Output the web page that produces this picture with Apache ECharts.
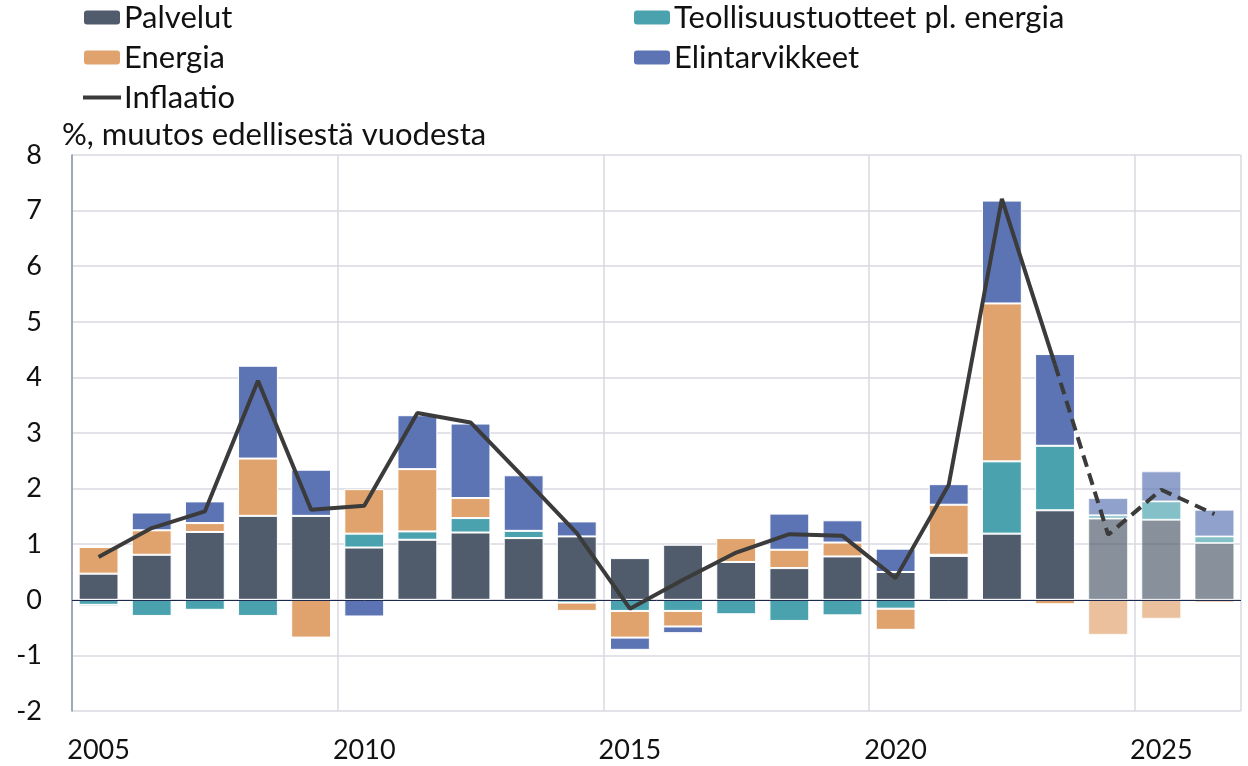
<!DOCTYPE html>
<html lang="fi">
<head>
    <meta charset="UTF-8">
    <title>Inflaatio</title>
    <script src="https://cdn.jsdelivr.net/npm/echarts@6/dist/echarts.min.js"></script>
    <style>
        html, body {margin:0; padding:0; background:#fff}
    </style>
</head>
<body>
<div id="main" style="width: 1248px; height:766px;"></div>
<script>
    var years = ['2005','2006','2007','2008','2009','2010','2011','2012','2013','2014','2015',
        '2016','2017','2018','2019','2020','2021','2022','2023','2024','2025','2026'];
    var palvelut = [0.47, 0.81, 1.22, 1.51, 1.51, 0.94, 1.08, 1.21, 1.11, 1.14, 0.75,
        0.99, 0.68, 0.57, 0.78, 0.50, 0.79, 1.19, 1.61, 1.46, 1.44, 1.02];
    var teollisuus = [-0.09, -0.29, -0.18, -0.29, 0, 0.25, 0.15, 0.26, 0.13, -0.05, -0.20,
        -0.20, -0.26, -0.38, -0.28, -0.16, 0.02, 1.30, 1.16, 0.06, 0.33, 0.12];
    var energia = [0.48, 0.44, 0.16, 1.03, -0.68, 0.80, 1.12, 0.36, -0.03, -0.15, -0.48,
        -0.28, 0.43, 0.33, 0.25, -0.38, 0.90, 2.84, -0.08, -0.63, -0.34, -0.05];
    var elintarvikkeet = [-0.04, 0.32, 0.39, 1.67, 0.83, -0.30, 0.97, 1.34, 1.00, 0.27, -0.22,
        -0.12, 0, 0.65, 0.40, 0.42, 0.37, 1.85, 1.65, 0.31, 0.54, 0.48];
    var inflaatio = [0.77, 1.29, 1.59, 3.94, 1.62, 1.69, 3.36, 3.19, 2.20, 1.20, -0.16,
        0.36, 0.85, 1.18, 1.15, 0.39, 2.07, 7.21, 4.23, 1.17, 1.98, 1.54];
    var yTicks = [-2, 8, 1]; // min, max, step
    var ennusteAlku = 19; // 2024 -> ennuste

    var fontName = 'Lato';
    var textSize = 31;   // selitteet ja otsikko
    var numSize = 27;    // akselien numerot

    // ennustevuodet vaaleammalla
    function bars(arr) {
        return arr.map(function (v, i) {
            if (i >= ennusteAlku) return {value: v, itemStyle: {opacity: 0.68}};
            return v;
        });
    }
    var toteutunut = inflaatio.map(function (v, i) { return i <= ennusteAlku - 1 ? v : null; });
    var ennuste = inflaatio.map(function (v, i) { return i >= ennusteAlku - 1 ? v : null; });

    function five(i) { return i % 5 === 0; }

    function barSerie(name, data, color) {
        return {
            name: name,
            type: 'bar',
            stack: 'a',
            barCategoryGap: '25%',
            itemStyle: {color: color, borderColor: '#ffffff', borderWidth: 1},
            emphasis: {disabled: true},
            data: bars(data)
        };
    }

    var chart = echarts.init(document.getElementById('main'));
    var sPalv = barSerie('Palvelut', palvelut, '#505b6b');
    sPalv.markLine = {
        silent: true,
        symbol: 'none',
        label: {show: false},
        lineStyle: {color: '#1f2a4f', width: 1, type: 'solid'},
        data: [{yAxis: 0}]
    };

    var legendBase = {
        top: 0,
        padding: [2, 5, 5, 5],
        orient: 'vertical',
        itemWidth: 38, itemHeight: 16, itemGap: 9,
        textStyle: {fontSize: textSize, color: '#111', fontFamily: fontName, padding: [0, 0, 0, -2]}
    };

    chart.setOption({
        animation: false,
        textStyle: {fontFamily: fontName},
        legend: [
            Object.assign({}, legendBase, {
                left: 76,
                data: ['Palvelut', 'Energia',
                    {name: 'Inflaatio', itemStyle: {opacity: 0}, lineStyle: {width: 4, color: '#3b3b3b'}}]
            }),
            Object.assign({}, legendBase, {
                left: 627,
                data: ['Teollisuustuotteet pl. energia', 'Elintarvikkeet']
            })
        ],
        graphic: [{
            type: 'text',
            left: 62, top: 119,
            style: {text: '%, muutos edellisestä vuodesta', fontSize: textSize, fontFamily: fontName, fill: '#111'}
        }],
        grid: {left: 72, right: 7, top: 155, bottom: 55, containLabel: false},
        xAxis: {
            type: 'category',
            data: years,
            boundaryGap: true,
            axisLine: {show: false},
            axisTick: {show: false},
            axisLabel: {interval: five, fontSize: numSize, color: '#111', margin: 26},
            splitLine: {show: true, interval: five, lineStyle: {color: '#d9d9e1', width: 1.5}}
        },
        yAxis: {
            type: 'value',
            min: yTicks[0], max: yTicks[1], interval: yTicks[2],
            axisLine: {show: true, lineStyle: {color: '#8a93a8', width: 1.5}},
            axisTick: {show: false},
            axisLabel: {fontSize: numSize, color: '#111', margin: 30},
            splitLine: {lineStyle: {color: '#d9d9e1', width: 1.5}}
        },
        series: [
            sPalv,
            barSerie('Teollisuustuotteet pl. energia', teollisuus, '#4aa2ae'),
            barSerie('Energia', energia, '#e0a36d'),
            barSerie('Elintarvikkeet', elintarvikkeet, '#5c74b4'),
            {
                name: 'Inflaatio',
                type: 'line',
                symbol: 'none',
                lineStyle: {color: '#3b3b3b', width: 4},
                itemStyle: {color: '#3b3b3b'},
                z: 5,
                data: toteutunut
            },
            {
                name: 'Inflaatio ennuste',
                type: 'line',
                symbol: 'none',
                lineStyle: {color: '#3b3b3b', width: 4, type: [12, 7]},
                itemStyle: {color: '#3b3b3b'},
                z: 5,
                data: ennuste
            }
        ]
    });
</script>
</body>
</html>
